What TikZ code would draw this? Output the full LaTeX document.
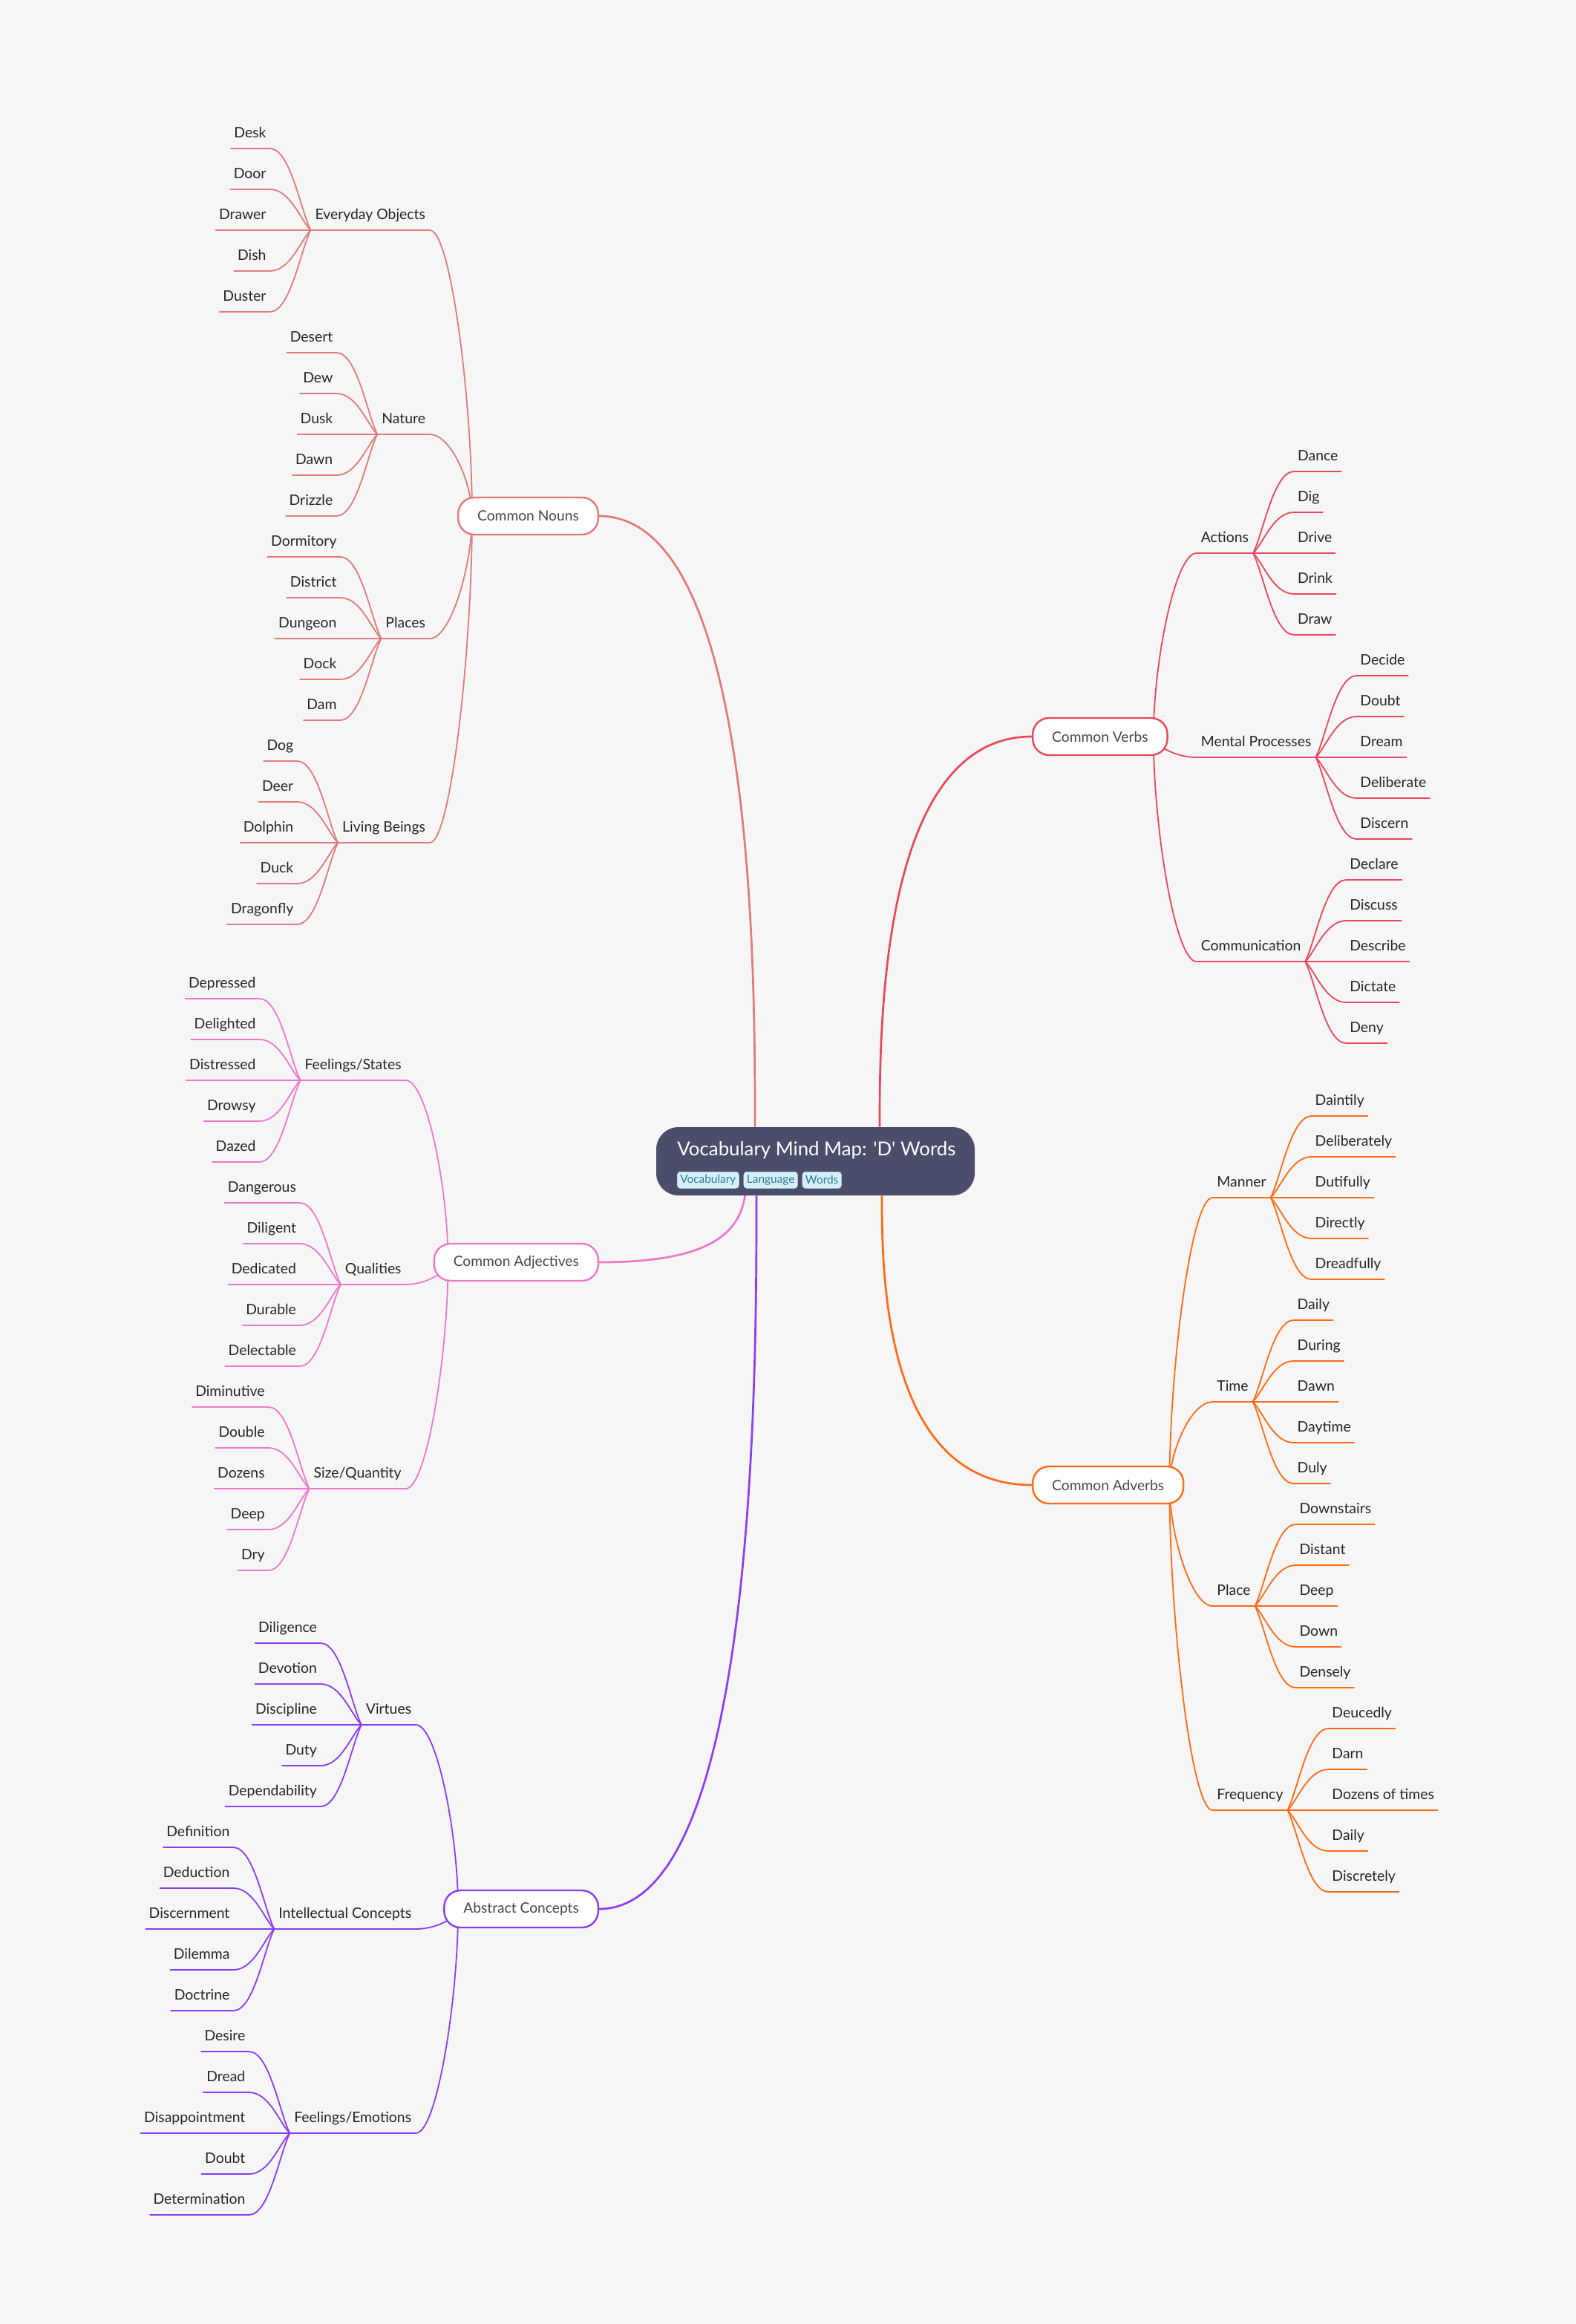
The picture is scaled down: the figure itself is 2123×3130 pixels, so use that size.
\documentclass[tikz,border=0pt]{standalone}
\usepackage{fontspec}
\setmainfont{Lato}
\newfontfamily\titlefont{Lato}
\usetikzlibrary{positioning,calc,backgrounds}

\definecolor{bgcol}{HTML}{F6F6F6}
\definecolor{rootcol}{HTML}{4B4E6B}
\definecolor{tagfill}{HTML}{D5F0F7}
\definecolor{tagtext}{HTML}{2C7A96}
\definecolor{nounc}{HTML}{E07B7B}
\definecolor{verbc}{HTML}{E8485A}
\definecolor{adjc}{HTML}{EC78CB}
\definecolor{abstc}{HTML}{8A3DF2}
\definecolor{advc}{HTML}{FF6A13}
\definecolor{inkcol}{HTML}{262626}

\tikzset{
  leaf/.style={inner xsep=2.5pt, inner ysep=4.75pt, outer sep=0pt, text height=7pt, text depth=2.6pt,
    font=\fontsize{9.7}{11}\selectfont, text=inkcol},
  sublbl/.style={leaf, inner xsep=3pt},
  twig/.style={draw=#1, line width=0.9pt},
  limb/.style={draw=#1, line width=1.35pt},
  topic/.style={draw=#1, fill=white, line width=1.2pt, rounded corners=11pt, minimum height=25pt,
    inner xsep=13pt, font=\fontsize{9.6}{11}\selectfont, text=black!72},
  rootbox/.style={fill=rootcol, rounded corners=15pt, minimum width=214.5pt, minimum height=46pt},
  tag/.style={fill=tagfill, draw=tagtext!25, line width=0.3pt, rounded corners=2pt, inner xsep=2pt,
    inner ysep=0pt, minimum height=11pt, text=tagtext, font=\fontsize{7.7}{9}\selectfont},
}

% a branch on the left: parent hook, name, underline y, label, colour, words
\newcommand{\twigsleft}[6]{%
  \node[sublbl, anchor=south east] (#2) at ($(#1 |- 0,#3)+(-57,0)$) {#4};
  \draw[twig=#5] (#2.south west) -- (#2.south east);
  \foreach \w [count=\i] in {#6} {
    \node[leaf, anchor=south east] (#2-\i) at ($(#2.south west)+(-55,{55*(\i-3)})$) {\w};
    \draw[twig=#5] (#2-\i.south west) -- (#2-\i.south east)
      .. controls ($(#2-\i.south east)!0.5!(#2.south west |- #2-\i.south east)$)
      and ($(#2.south west)!0.25!(#2-\i.south east)$) .. (#2.south west);
  }
  \begin{scope}[on background layer]
    \draw[twig=#5] (#2.south east)
      .. controls ($(#2.south east)!0.5!(#1 |- #2.south east)$)
      and ($(#1)!0.4!(#1 |- #2.south east)$) .. (#1);
  \end{scope}
}
% the same on the right
\newcommand{\twigsright}[6]{%
  \node[sublbl, anchor=south west] (#2) at ($(#1 |- 0,#3)+(58,0)$) {#4};
  \draw[twig=#5] (#2.south west) -- (#2.south east);
  \foreach \w [count=\i] in {#6} {
    \node[leaf, anchor=south west] (#2-\i) at ($(#2.south east)+(55,{55*(\i-3)})$) {\w};
    \draw[twig=#5] (#2-\i.south east) -- (#2-\i.south west)
      .. controls ($(#2-\i.south west)!0.5!(#2.south east |- #2-\i.south west)$)
      and ($(#2.south east)!0.25!(#2-\i.south west)$) .. (#2.south east);
  }
  \begin{scope}[on background layer]
    \draw[twig=#5] (#2.south west)
      .. controls ($(#2.south west)!0.5!(#1 |- #2.south west)$)
      and ($(#1)!0.4!(#1 |- #2.south west)$) .. (#1);
  \end{scope}
}

\begin{document}
\begin{tikzpicture}[x=0.5pt, y=-0.5pt]
\useasboundingbox (0,0) rectangle (2123,3130);
\begin{scope}[on background layer]
  \fill[bgcol] (0,0) rectangle (2123,3130);
\end{scope}

% centre
\node[rootbox] (root) at (1098.5,1564) {};
\node[anchor=base west, inner sep=0pt, text=white, font=\titlefont\fontsize{12.9}{15}\selectfont]
  (title) at (912,1556) {Vocabulary Mind Map: 'D' Words};
\node[tag, anchor=north west] (tag1) at (912,1578) {Vocabulary};
\node[tag, right=3pt of tag1] (tag2) {Language};
\node[tag, right=3pt of tag2] (tag3) {Words};
\coordinate (root-nw) at ($(root.north)+(-81.5,0)$);
\coordinate (root-ne) at ($(root.north)+(86.5,0)$);
\coordinate (root-sw) at ($(root.south)+(-79.5,0)$);
\coordinate (root-se) at ($(root.south)+(89.5,0)$);
\coordinate (root-pk) at ($(root.south)+(-93.5,-20)$);

% main topics
\node[topic=nounc, anchor=east] (nouns) at (807,695) {Common Nouns};
\node[topic=adjc, anchor=east] (adjs) at (807,1700) {Common Adjectives};
\node[topic=abstc, anchor=east] (abstract) at (807,2571) {Abstract Concepts};
\node[topic=verbc, anchor=west] (verbs) at (1390,992) {Common Verbs};
\node[topic=advc, anchor=west] (advs) at (1390,2000) {Common Adverbs};
\coordinate (nouns-hook) at ($(nouns.west)+(20,0)$);
\coordinate (adjs-hook) at ($(adjs.west)+(20,0)$);
\coordinate (abstract-hook) at ($(abstract.west)+(20,0)$);
\coordinate (verbs-hook) at ($(verbs.east)+(-20,0)$);
\coordinate (advs-hook) at ($(advs.east)+(-20,0)$);

\begin{scope}[on background layer]
  \draw[limb=nounc] (nouns.east) .. controls (root-nw |- nouns.east)
    and ($(root-nw)!0.25!(root-nw |- nouns.east)$) .. (root-nw);
  \draw[limb=verbc] (verbs.west) .. controls (root-ne |- verbs.west)
    and ($(root-ne)!0.25!(root-ne |- verbs.west)$) .. (root-ne);
  \draw[limb=abstc] (abstract.east) .. controls (root-sw |- abstract.east)
    and ($(root-sw)!0.25!(root-sw |- abstract.east)$) .. (root-sw);
  \draw[limb=advc] (advs.west) .. controls (root-se |- advs.west)
    and ($(root-se)!0.25!(root-se |- advs.west)$) .. (root-se);
  \draw[limb=adjc] (adjs.east) .. controls ($(adjs.east)+(152,0)$)
    and ($(root-pk)+(0,70)$) .. (root-pk);
\end{scope}

% nouns
\twigsleft{nouns-hook}{objects}{310}{Everyday Objects}{nounc}{Desk,Door,Drawer,Dish,Duster}
\twigsleft{nouns-hook}{nature}{585}{Nature}{nounc}{Desert,Dew,Dusk,Dawn,Drizzle}
\twigsleft{nouns-hook}{places}{860}{Places}{nounc}{Dormitory,District,Dungeon,Dock,Dam}
\twigsleft{nouns-hook}{beings}{1135}{Living Beings}{nounc}{Dog,Deer,Dolphin,Duck,Dragonfly}
% adjectives
\twigsleft{adjs-hook}{feelings}{1455}{Feelings/States}{adjc}{Depressed,Delighted,Distressed,Drowsy,Dazed}
\twigsleft{adjs-hook}{qualities}{1730}{Qualities}{adjc}{Dangerous,Diligent,Dedicated,Durable,Delectable}
\twigsleft{adjs-hook}{sizes}{2005}{Size/Quantity}{adjc}{Diminutive,Double,Dozens,Deep,Dry}
% abstract concepts
\twigsleft{abstract-hook}{virtues}{2323}{Virtues}{abstc}{Diligence,Devotion,Discipline,Duty,Dependability}
\twigsleft{abstract-hook}{intellect}{2598}{Intellectual Concepts}{abstc}{Definition,Deduction,Discernment,Dilemma,Doctrine}
\twigsleft{abstract-hook}{emotions}{2873}{Feelings/Emotions}{abstc}{Desire,Dread,Disappointment,Doubt,Determination}
% verbs
\twigsright{verbs-hook}{actions}{745}{Actions}{verbc}{Dance,Dig,Drive,Drink,Draw}
\twigsright{verbs-hook}{mental}{1020}{Mental Processes}{verbc}{Decide,Doubt,Dream,Deliberate,Discern}
\twigsright{verbs-hook}{talk}{1295}{Communication}{verbc}{Declare,Discuss,Describe,Dictate,Deny}
% adverbs
\twigsright{advs-hook}{manner}{1613}{Manner}{advc}{Daintily,Deliberately,Dutifully,Directly,Dreadfully}
\twigsright{advs-hook}{timing}{1888}{Time}{advc}{Daily,During,Dawn,Daytime,Duly}
\twigsright{advs-hook}{placing}{2163}{Place}{advc}{Downstairs,Distant,Deep,Down,Densely}
\twigsright{advs-hook}{often}{2438}{Frequency}{advc}{Deucedly,Darn,Dozens of times,Daily,Discretely}
\end{tikzpicture}
\end{document}
